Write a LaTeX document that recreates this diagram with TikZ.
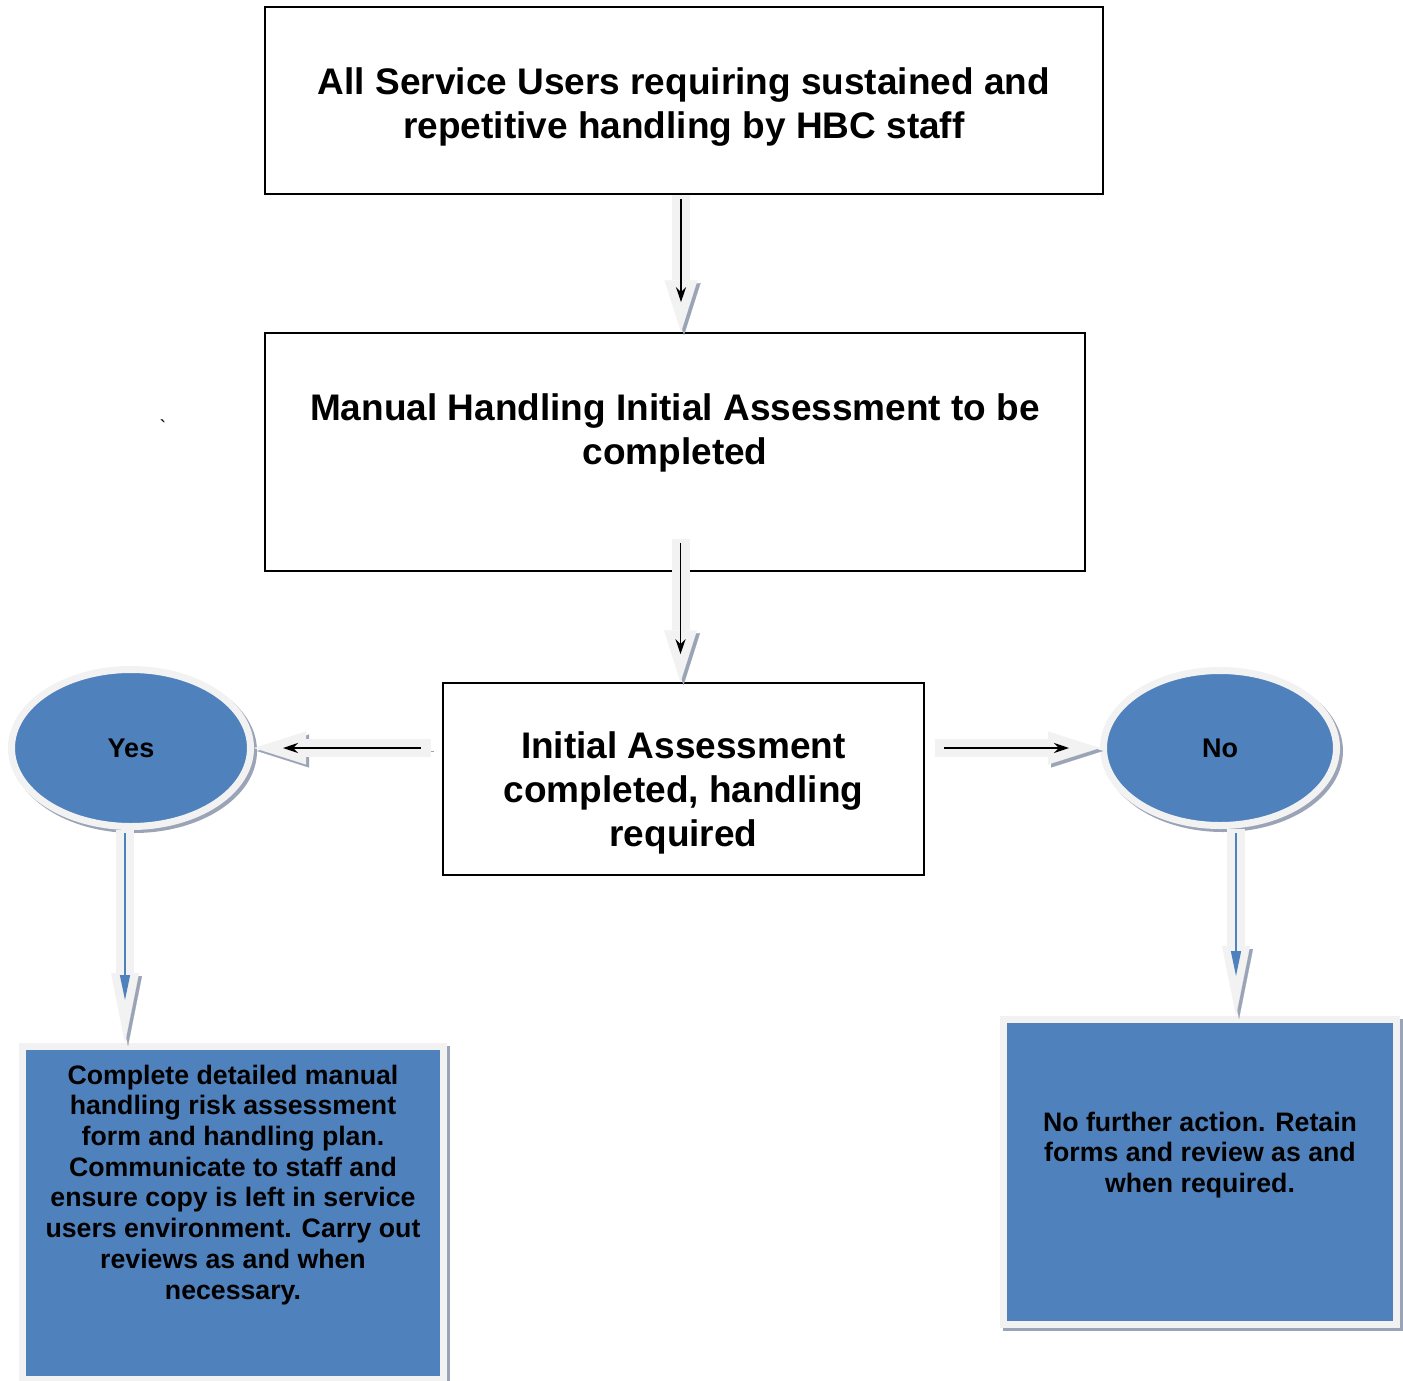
\documentclass[tikz,border=0pt]{standalone}
\usepackage{fontspec}
\setmainfont{Liberation Sans}
\usetikzlibrary{arrows.meta,positioning,shapes.geometric,calc}
\definecolor{boxblue}{HTML}{4F81BD}
\definecolor{ringgrey}{HTML}{F2F2F2}
\definecolor{shadegrey}{HTML}{9AA4B6}

\begin{document}
\begin{tikzpicture}[x=1pt,y=-1pt,
stepbox/.style={rectangle,draw,line width=1.6pt,fill=white,align=center,inner sep=0pt,
  font=\fontsize{37}{44}\selectfont\bfseries},
bluebox/.style={rectangle,draw=ringgrey,fill=boxblue,line width=7pt,align=center,inner sep=0pt,
  font=\fontsize{26.7}{30.7}\selectfont\bfseries,
  preaction={draw=shadegrey,transform canvas={shift={(3pt,-3pt)}}}},
choice/.style={ellipse,draw=ringgrey,fill=boxblue,line width=7pt,inner sep=0pt,
  font=\fontsize{27}{30}\selectfont\bfseries,
  preaction={draw=shadegrey,transform canvas={shift={(3pt,-3pt)}}}},
bigarr/.style={draw=ringgrey,line width=18pt,-{Triangle[width=33pt,length=52pt,line width=0.1pt]},
  preaction={draw=shadegrey,transform canvas={shift={(3pt,-3pt)}}}},
downarr/.style={bigarr,-{Triangle[width=28pt,length=70pt,line width=0.1pt]}},
arr/.style={-{Stealth[length=15pt,width=10pt]},line width=1.6pt},
bluearr/.style={draw=boxblue,-{Triangle[length=25pt,width=10pt]},line width=1.5pt}
]
\useasboundingbox (0,0) rectangle (1403,1381);

% boxes
\node[stepbox,minimum width=838pt,minimum height=187pt,text height=83pt] (users) at (684,100.5)
  {All Service Users requiring sustained and\\repetitive handling by HBC staff};
\node[stepbox,minimum width=820pt,minimum height=238pt,text height=127pt] (initial) at (675,452)
  {Manual Handling Initial Assessment to be\\completed\\\strut};
\node[stepbox,minimum width=481pt,minimum height=192pt,text height=143pt] (done) at (683.5,779)
  {Initial Assessment\\completed, handling\\required};
\node (tick) at (163,427) {\fontsize{20}{20}\selectfont\textasciigrave};

% decisions
\node[choice,minimum width=239pt,minimum height=157pt] (yes) at (131,748) {Yes};
\node[choice,minimum width=233pt,minimum height=155pt] (no) at (1220,748) {No};

% outcomes
\node[bluebox,minimum width=421pt,minimum height=333pt,text height=304pt] (detail) at (233,1213)
  {Complete detailed manual\\handling risk assessment\\form and handling plan.\\Communicate to staff and\\ensure copy is left in service\\users environment. Carry out\\reviews as and when\\necessary.\\\strut\\\strut};
\node[bluebox,minimum width=393pt,minimum height=305pt] (noaction) at (1200,1172)
  {No further action. Retain\\forms and review as and\\when required.\\\strut};

% connectors
\coordinate (a1) at ($(users.south)+(-3,0)$);
\coordinate (a2) at ($(done.north |- initial.south)+(-3,-33)$);
\coordinate (a3) at ($(done.west |- yes.east)+(-11,0)$);
\coordinate (a4) at ($(done.east |- no.west)+(10,0)$);
\coordinate (a5) at ($(yes.south)+(-6,0)$);
\coordinate (a6) at ($(no.south)+(16,0)$);

\draw[bigarr] (a1) -- (a1 |- initial.north);
\draw[arr,shorten <=4pt,shorten >=30pt] (a1) -- (a1 |- initial.north);
\draw[bigarr] (a2) -- (a2 |- done.north);
\draw[arr,shorten <=4pt,shorten >=28pt] (a2) -- (a2 |- done.north);
\draw[bigarr] (a3) -- (yes.east);
\draw[arr,shorten <=10pt,shorten >=29pt] (a3) -- (yes.east);
\draw[bigarr] (a4) -- (no.west);
\draw[arr,shorten <=9pt,shorten >=31pt] (a4) -- (no.west);
\draw[downarr] (a5) -- (a5 |- detail.north);
\draw[bluearr,shorten <=3pt,shorten >=43pt] (a5) -- (a5 |- detail.north);
\draw[downarr] (a6) -- (a6 |- noaction.north);
\draw[bluearr,shorten <=4pt,shorten >=40pt] (a6) -- (a6 |- noaction.north);
\end{tikzpicture}
\end{document}
